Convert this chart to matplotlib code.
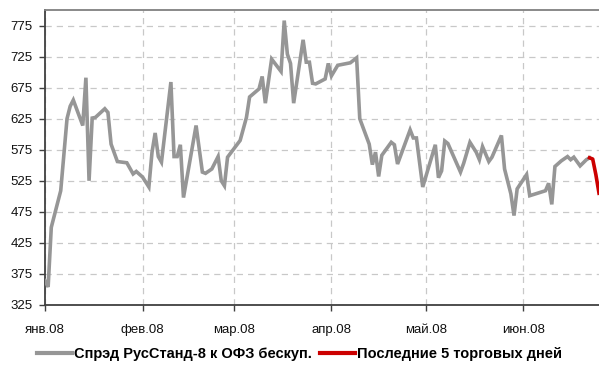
import matplotlib
matplotlib.use("Agg")
import matplotlib.pyplot as plt
import numpy as np

plt.rcParams['font.family'] = ['Liberation Sans Narrow', 'Liberation Sans', 'DejaVu Sans']

# day offsets from 1 Jan 2008 and spread values (bp)
spread_days = [0, 1, 2, 5, 7, 8, 9, 12, 13, 14, 15, 16, 19, 20, 21, 23, 26, 28, 29, 31,
               33, 34, 35, 36, 37, 40, 41, 42, 43, 44, 48, 50, 51, 53, 55, 56, 57, 58,
               62, 64, 65, 68, 69, 70, 72, 75, 76, 77, 78, 79, 82, 83, 84, 85, 86, 89,
               90, 91, 93, 95, 97, 99, 100, 103, 104, 105, 106, 107, 110, 111, 112, 116,
               117, 118, 120, 124, 125, 126, 127, 128, 132, 133, 135, 137, 138, 139, 141,
               142, 145, 146, 148, 149, 150, 153, 154, 159, 160, 161, 162, 164, 166, 167,
               168, 170, 172, 173]
spread_vals = [364, 354, 450, 509, 625, 645, 655, 614, 691, 525, 626, 627, 641, 635, 584,
               556, 554, 536, 540, 531, 515, 571, 602, 564, 555, 684, 564, 564, 583, 498,
               614, 539, 537, 544, 564, 525, 517, 563, 590, 627, 660, 673, 693, 650, 721,
               701, 783, 729, 714, 650, 752, 716, 716, 682, 681, 689, 714, 694, 711, 713,
               715, 723, 625, 584, 551, 571, 532, 566, 587, 583, 552, 607, 594, 594, 515,
               583, 530, 541, 589, 585, 539, 553, 587, 571, 559, 580, 556, 563, 598, 544,
               504, 469, 512, 535, 501, 509, 521, 487, 548, 557, 564, 559, 563, 549, 559,
               562]

last_days = [173, 174, 175, 176]
last_vals = [562, 560, 535, 505]

month_days = [0, 31, 60, 91, 121, 152]
month_labels = ['янв.08', 'фев.08', 'мар.08', 'апр.08', 'май.08', 'июн.08']
y_ticks = [325, 375, 425, 475, 525, 575, 625, 675, 725, 775]

legend_labels = ['Спрэд РусСтанд-8 к ОФЗ бескуп.', 'Последние 5 торговых дней']

fig = plt.figure(figsize=(5.99, 3.67), dpi=100)
ax = fig.add_axes([0.0751, 0.169, 0.9249, 0.8037])

ax.plot(spread_days, spread_vals, color='#969696', lw=2.6, solid_joinstyle='miter',
        label=legend_labels[0], zorder=3)
ax.plot(last_days, last_vals, color='#cc0000', lw=2.6, label=legend_labels[1], zorder=4)

ax.set_xlim(0, 176)
ax.set_ylim(325, 800)
ax.set_xticks(month_days)
ax.set_xticklabels(month_labels)
ax.set_yticks(y_ticks)

ax.grid(True, color='#c8c8c8', linestyle=(0, (5, 4)), linewidth=0.9)
ax.set_axisbelow(True)

for side in ['left', 'bottom']:
    ax.spines[side].set_color('#404040')
    ax.spines[side].set_linewidth(1.3)
ax.spines['right'].set_visible(False)
ax.spines['top'].set_color('#808080')
ax.spines['top'].set_linewidth(1.3)

ax.tick_params(axis='both', direction='out', length=4, width=1, color='#404040',
               labelsize=9.5, labelcolor='#111111')
ax.tick_params(axis='x', pad=10)
ax.tick_params(axis='y', pad=5)

leg = fig.legend(loc='center', bbox_to_anchor=(0.5, 0.035), ncol=2, frameon=False,
                 prop={'weight': 'bold', 'size': 10.5}, handlelength=2.4, handletextpad=0.1,
                 columnspacing=0.6)
for line in leg.get_lines():
    line.set_linewidth(3)

fig.savefig('out.png', dpi=100)
